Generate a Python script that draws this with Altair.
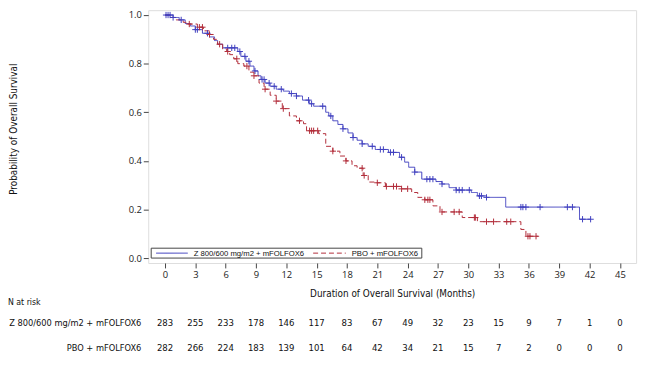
import altair as alt
import pandas as pd

arms = ["Z 800/600 mg/m2 + mFOLFOX6", "PBO + mFOLFOX6"]
colors = ["#3f3fbf", "#b22d3a"]

# Kaplan-Meier step points (month, survival)
z_time = [0, 0.8, 1.4, 2.0, 2.5, 3.0, 3.7, 4.4, 4.9, 5.2, 5.7, 7.2, 7.5, 8.0, 8.4, 8.8, 9.2, 9.5, 9.9, 10.4,
          11.0, 11.7, 12.3, 13.0, 13.6, 14.3, 14.7, 15.9, 16.2, 16.6, 17.1, 17.6, 18.1, 18.6, 19.0, 19.5, 20.1,
          20.8, 22.1, 23.2, 23.7, 24.1, 24.7, 25.4, 26.8, 27.4, 28.1, 28.8, 30.3, 30.9, 31.8, 33.7, 41.0]
z_surv = [1.0, 0.99, 0.98, 0.965, 0.955, 0.94, 0.925, 0.91, 0.895, 0.88, 0.865, 0.85, 0.83, 0.81, 0.79, 0.77,
          0.75, 0.735, 0.72, 0.707, 0.695, 0.687, 0.677, 0.667, 0.65, 0.635, 0.625, 0.60, 0.585, 0.565, 0.55,
          0.532, 0.515, 0.496, 0.485, 0.47, 0.46, 0.447, 0.435, 0.415, 0.395, 0.374, 0.354, 0.325, 0.315,
          0.305, 0.29, 0.28, 0.27, 0.256, 0.25, 0.21, 0.16]
z_end = 42.1

p_time = [0, 0.5, 1.1, 1.8, 2.2, 3.2, 3.8, 4.4, 4.8, 5.2, 5.7, 6.1, 6.4, 6.8, 7.2, 7.8, 8.3, 8.8, 9.3, 9.8,
          10.4, 11.0, 11.6, 12.3, 13.0, 13.7, 14.0, 15.2, 15.9, 16.6, 17.3, 17.9, 18.5, 19.0, 19.6, 20.1, 20.8,
          21.8, 23.4, 24.4, 25.0, 25.7, 26.5, 27.2, 29.4, 30.9, 35.2, 35.7]
p_surv = [1.0, 0.99, 0.98, 0.97, 0.963, 0.95, 0.935, 0.92, 0.90, 0.88, 0.86, 0.85, 0.837, 0.82, 0.80, 0.79,
          0.765, 0.75, 0.72, 0.695, 0.67, 0.646, 0.615, 0.585, 0.565, 0.553, 0.524, 0.512, 0.46, 0.44, 0.42,
          0.40, 0.38, 0.37, 0.34, 0.313, 0.31, 0.295, 0.285, 0.27, 0.25, 0.24, 0.215, 0.19, 0.167, 0.15,
          0.118, 0.09]
p_end = 36.9

# censoring times (months)
z_cens = [0.1, 0.3, 0.5, 0.8, 1.6, 3.0, 3.2, 4.2, 6.2, 6.6, 6.9, 7.4, 7.9, 8.3, 8.9, 9.6, 9.8, 10.3, 10.8,
          11.5, 12.5, 13.0, 14.2, 14.5, 15.6, 16.4, 17.6, 18.6, 19.5, 20.5, 21.3, 21.6, 22.3, 22.6, 23.4, 24.7,
          25.9, 26.2, 26.5, 27.4, 28.8, 29.1, 29.4, 30.1, 31.1, 31.3, 31.8, 35.2, 35.4, 35.7, 37.1, 39.8, 40.3,
          41.3, 42.1]
p_cens = [2.4, 3.4, 3.7, 4.4, 5.4, 6.2, 7.1, 8.1, 8.8, 9.9, 11.0, 11.7, 13.3, 14.3, 14.5, 14.7, 15.1, 16.6,
          17.9, 19.5, 19.7, 21.0, 21.9, 22.6, 22.9, 23.4, 24.0, 25.7, 26.0, 26.2, 27.4, 28.6, 29.1, 30.6, 30.7,
          31.8, 32.5, 33.8, 34.2, 35.9, 36.1, 36.7]

risk_times = list(range(0, 46, 3))
z_risk = [283, 255, 233, 178, 146, 117, 83, 67, 49, 32, 23, 15, 9, 7, 1, 0]
p_risk = [282, 266, 224, 183, 139, 101, 64, 42, 34, 21, 15, 7, 2, 0, 0, 0]


def surv_at(times, survs, t):
    s = survs[0]
    for tt, ss in zip(times, survs):
        if tt <= t:
            s = ss
    return s


curve_rows = []
for arm, tl, sl, end in [(arms[0], z_time, z_surv, z_end), (arms[1], p_time, p_surv, p_end)]:
    for t, s in zip(tl, sl):
        curve_rows.append({"arm": arm, "time": t, "surv": s})
    curve_rows.append({"arm": arm, "time": end, "surv": sl[-1]})
curves = pd.DataFrame(curve_rows)

cens_rows = []
for arm, tl, sl, cl in [(arms[0], z_time, z_surv, z_cens), (arms[1], p_time, p_surv, p_cens)]:
    for c in cl:
        cens_rows.append({"arm": arm, "time": c, "surv": surv_at(tl, sl, c)})
cens = pd.DataFrame(cens_rows)

risk = pd.DataFrame(
    [{"arm": arms[0], "time": t, "n": n} for t, n in zip(risk_times, z_risk)]
    + [{"arm": arms[1], "time": t, "n": n} for t, n in zip(risk_times, p_risk)]
)

W, H = 494, 256
xscale = alt.Scale(domain=[-1.66, 46.6], nice=False, zero=False)
yscale = alt.Scale(domain=[-0.02, 1.02], nice=False, zero=False)
cscale = alt.Scale(domain=arms, range=colors)
dscale = alt.Scale(domain=arms, range=[[1, 0], [5, 3]])

NARROW = "DejaVu Sans Condensed"
TICKFONT = "Open Sans"

xaxis = alt.Axis(values=risk_times, title="Duration of Overall Survival (Months)", tickSize=5,
                 labelFont=TICKFONT, labelFontSize=9.5, labelColor="#222", labelPadding=2,
                 labelOverlap=False, labelFlush=False,
                 titleFont=NARROW, titleFontSize=10, titleFontWeight="normal", titleColor="#111",
                 titlePadding=9, domain=False, tickColor="#444", grid=False)
yaxis = alt.Axis(values=[0, 0.2, 0.4, 0.6, 0.8, 1.0], format=".1f", title="Probability of Overall Survival",
                 tickSize=5, labelFont=TICKFONT, labelFontSize=9.5, labelColor="#222", labelPadding=2,
                 labelOverlap=False, labelFlush=False,
                 titleFont=NARROW, titleFontSize=10, titleFontWeight="normal", titleColor="#111",
                 titleX=-136, titleY=H / 2 - 8, titleAngle=-90, titleAlign="center", titleBaseline="middle",
                 domain=False, tickColor="#444", grid=False)

X = lambda f: alt.X(f, scale=xscale, axis=xaxis)
Y = lambda f: alt.Y(f, scale=yscale, axis=yaxis)

lines = alt.Chart(curves).mark_line(interpolate="step-after", strokeWidth=1).encode(
    x=X("time:Q"),
    y=Y("surv:Q"),
    color=alt.Color("arm:N", scale=cscale, legend=None),
    strokeDash=alt.StrokeDash("arm:N", scale=dscale, legend=None),
    order="time:Q",
)

marks = alt.Chart(cens).mark_point(
    shape="M0,-1L0,1M-1,0L1,0", size=40, filled=False, strokeWidth=1, opacity=1
).encode(
    x=X("time:Q"),
    y=Y("surv:Q"),
    color=alt.Color("arm:N", scale=cscale, legend=None),
)

# legend box inside plot
legend_box = alt.Chart(pd.DataFrame({"a": [0]})).mark_rect(
    fill="white", stroke="#444", strokeWidth=1
).encode(x=alt.value(3), x2=alt.value(277), y=alt.value(241), y2=alt.value(251))

leg_df = pd.DataFrame({"arm": arms, "x0": [8, 167], "x1": [40, 200], "tx": [46, 206]})
leg_lines = alt.Chart(leg_df).mark_rule(strokeWidth=1).encode(
    x=alt.X("x0:Q", scale=None), x2="x1:Q", y=alt.value(246),
    color=alt.Color("arm:N", scale=cscale, legend=None),
    strokeDash=alt.StrokeDash("arm:N", scale=dscale, legend=None),
)
leg_text = alt.Chart(leg_df).mark_text(
    align="left", baseline="middle", font="Liberation Sans", fontSize=7.8, color="#111"
).encode(x=alt.X("tx:Q", scale=None), y=alt.value(246.5), text="arm:N")

# number at risk table
nar_title = alt.Chart(pd.DataFrame({"t": ["N at risk"]})).mark_text(
    align="left", baseline="middle", font=NARROW, fontSize=8.8, color="#111"
).encode(x=alt.value(-142), y=alt.value(296), text="t:N")

row_y = {arms[0]: 317, arms[1]: 342}
risk_layers = []
for arm in arms:
    lab = alt.Chart(pd.DataFrame({"arm": [arm]})).mark_text(
        align="right", baseline="middle", font=NARROW, fontSize=9.3, color="#111"
    ).encode(x=alt.value(-7), y=alt.value(row_y[arm]), text="arm:N")
    nums = alt.Chart(risk[risk.arm == arm]).mark_text(
        align="center", baseline="middle", font=NARROW, fontSize=9.6, color="#111"
    ).encode(x=X("time:Q"), y=alt.value(row_y[arm]), text="n:Q")
    risk_layers += [lab, nums]

chart = alt.layer(
    lines, marks, legend_box, leg_lines, leg_text, nar_title, *risk_layers
).properties(
    width=W, height=H,
    autosize=alt.AutoSizeParams(type="none"),
    padding={"left": 142, "top": 0, "right": 9, "bottom": 95},
).configure_view(
    stroke="#8a8a8a", strokeWidth=1.5
).configure(background="white")

chart.save("out.html", embed_options={"renderer": "svg", "actions": False})
